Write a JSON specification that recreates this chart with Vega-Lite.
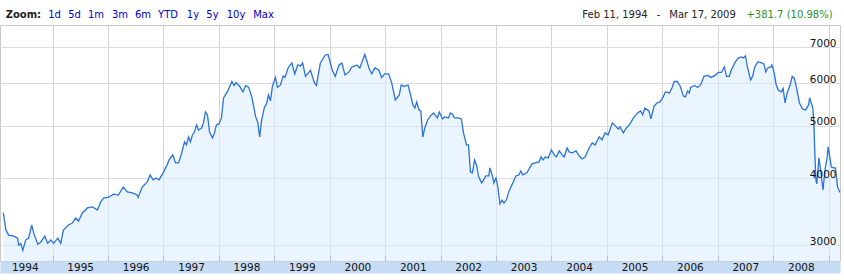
{
"$schema": "https://vega.github.io/schema/vega-lite/v6.json",
"width": 840, "height": 236,
"autosize": {"type": "none"},
"padding": {"left": 0, "top": 25, "right": 4, "bottom": 19},
"background": "white",
"config": {"view": {"stroke": "#c9c9c9"}, "axis": {"labelFont": "DejaVu Sans"}},
"data": {"values": [
{"d":"1994-02-11","v":3450},{"d":"1994-02-28","v":3202},{"d":"1994-03-18","v":3134},{"d":"1994-04-20","v":3120},{"d":"1994-05-16","v":3093},{"d":"1994-05-23","v":3000},{"d":"1994-06-06","v":3025},{"d":"1994-06-19","v":2935},{"d":"1994-07-08","v":3068},{"d":"1994-07-28","v":3093},{"d":"1994-08-17","v":3272},{"d":"1994-08-30","v":3160},{"d":"1994-09-26","v":3013},{"d":"1994-10-15","v":3040},{"d":"1994-11-11","v":3120},{"d":"1994-11-30","v":3025},{"d":"1994-12-20","v":3068},
{"d":"1995-01-09","v":3025},{"d":"1995-02-05","v":3093},{"d":"1995-02-24","v":3025},{"d":"1995-03-14","v":3202},{"d":"1995-04-16","v":3272},{"d":"1995-05-12","v":3300},{"d":"1995-06-02","v":3370},{"d":"1995-06-21","v":3328},{"d":"1995-07-17","v":3445},{"d":"1995-08-19","v":3520},{"d":"1995-09-22","v":3535},{"d":"1995-10-24","v":3489},{"d":"1995-11-14","v":3610},{"d":"1995-12-03","v":3670},
{"d":"1996-01-05","v":3685},{"d":"1996-02-07","v":3735},{"d":"1996-03-10","v":3720},{"d":"1996-04-11","v":3850},{"d":"1996-05-08","v":3770},{"d":"1996-06-10","v":3755},{"d":"1996-07-12","v":3720},{"d":"1996-07-18","v":3685},{"d":"1996-08-14","v":3850},{"d":"1996-09-16","v":3935},{"d":"1996-10-05","v":4054},{"d":"1996-10-25","v":3968},{"d":"1996-11-14","v":4000},{"d":"1996-12-03","v":3968},{"d":"1996-12-30","v":4090},
{"d":"1997-01-25","v":4231},{"d":"1997-02-07","v":4323},{"d":"1997-03-03","v":4416},{"d":"1997-03-22","v":4268},{"d":"1997-04-11","v":4268},{"d":"1997-05-01","v":4450},{"d":"1997-05-20","v":4670},{"d":"1997-06-02","v":4609},{"d":"1997-06-15","v":4770},{"d":"1997-06-28","v":4670},{"d":"1997-07-11","v":4811},{"d":"1997-07-24","v":4870},{"d":"1997-08-07","v":5021},{"d":"1997-08-20","v":4914},{"d":"1997-09-09","v":4955},{"d":"1997-09-22","v":5065},{"d":"1997-10-05","v":5308},{"d":"1997-10-18","v":5241},{"d":"1997-11-01","v":4870},{"d":"1997-11-20","v":4750},{"d":"1997-12-03","v":4852},{"d":"1997-12-16","v":5021},
{"d":"1998-01-02","v":5043},{"d":"1998-01-18","v":5174},{"d":"1998-02-01","v":5635},{"d":"1998-02-26","v":5783},{"d":"1998-03-28","v":6046},{"d":"1998-04-11","v":5945},{"d":"1998-04-24","v":6020},{"d":"1998-05-19","v":5920},{"d":"1998-06-09","v":5783},{"d":"1998-06-27","v":5945},{"d":"1998-07-17","v":5895},{"d":"1998-08-06","v":5660},{"d":"1998-09-01","v":5196},{"d":"1998-09-14","v":5086},{"d":"1998-09-27","v":4770},{"d":"1998-10-10","v":5129},{"d":"1998-10-29","v":5423},{"d":"1998-11-11","v":5492},{"d":"1998-11-24","v":5708},{"d":"1998-12-07","v":5566},{"d":"1998-12-20","v":5920},
{"d":"1999-01-09","v":6153},{"d":"1999-01-22","v":5895},{"d":"1999-02-11","v":5957},{"d":"1999-03-01","v":6193},{"d":"1999-03-13","v":6153},{"d":"1999-04-02","v":6407},{"d":"1999-04-27","v":6546},{"d":"1999-05-16","v":6246},{"d":"1999-06-05","v":6490},{"d":"1999-06-24","v":6462},{"d":"1999-07-07","v":6546},{"d":"1999-07-26","v":6180},{"d":"1999-08-28","v":6340},{"d":"1999-09-23","v":6010},{"d":"1999-10-06","v":5945},{"d":"1999-11-01","v":6546},{"d":"1999-12-03","v":6773},{"d":"1999-12-22","v":6790},
{"d":"2000-01-18","v":6353},{"d":"2000-02-07","v":6180},{"d":"2000-03-03","v":6490},{"d":"2000-03-22","v":6546},{"d":"2000-04-11","v":6219},{"d":"2000-05-07","v":6300},{"d":"2000-05-27","v":6435},{"d":"2000-06-15","v":6462},{"d":"2000-06-28","v":6490},{"d":"2000-07-18","v":6407},{"d":"2000-08-20","v":6790},{"d":"2000-09-16","v":6407},{"d":"2000-10-05","v":6246},{"d":"2000-10-25","v":6407},{"d":"2000-11-20","v":6353},{"d":"2000-12-09","v":6153},{"d":"2000-12-29","v":6246},
{"d":"2001-01-24","v":6246},{"d":"2001-02-13","v":6010},{"d":"2001-03-09","v":5588},{"d":"2001-04-04","v":5708},{"d":"2001-04-17","v":5957},{"d":"2001-05-05","v":5920},{"d":"2001-06-01","v":5957},{"d":"2001-06-14","v":5757},{"d":"2001-07-03","v":5469},{"d":"2001-07-16","v":5397},{"d":"2001-07-28","v":5542},{"d":"2001-08-11","v":5354},{"d":"2001-08-24","v":5331},{"d":"2001-09-06","v":4770},{"d":"2001-09-19","v":4955},{"d":"2001-10-08","v":5129},{"d":"2001-10-27","v":5219},{"d":"2001-11-16","v":5285},{"d":"2001-12-11","v":5174},{"d":"2001-12-24","v":5308},
{"d":"2002-01-14","v":5152},{"d":"2002-01-27","v":5196},{"d":"2002-02-23","v":5174},{"d":"2002-03-06","v":5285},{"d":"2002-03-19","v":5263},{"d":"2002-04-02","v":5174},{"d":"2002-04-28","v":5174},{"d":"2002-05-18","v":5152},{"d":"2002-06-01","v":4852},{"d":"2002-06-21","v":4609},{"d":"2002-07-04","v":4609},{"d":"2002-07-17","v":4106},{"d":"2002-07-30","v":4090},{"d":"2002-08-13","v":4323},{"d":"2002-08-26","v":4231},{"d":"2002-09-09","v":4020},{"d":"2002-09-29","v":3918},{"d":"2002-10-12","v":3968},{"d":"2002-10-25","v":4037},{"d":"2002-11-15","v":4037},{"d":"2002-11-22","v":4177},{"d":"2002-12-11","v":4020},{"d":"2002-12-18","v":3918},
{"d":"2003-01-01","v":4000},{"d":"2003-01-14","v":3850},{"d":"2003-01-27","v":3580},{"d":"2003-02-10","v":3641},{"d":"2003-02-23","v":3595},{"d":"2003-03-13","v":3656},{"d":"2003-03-26","v":3770},{"d":"2003-04-22","v":3918},{"d":"2003-05-12","v":4037},{"d":"2003-06-01","v":4054},{"d":"2003-06-14","v":4123},{"d":"2003-06-27","v":4054},{"d":"2003-07-24","v":4090},{"d":"2003-08-07","v":4159},{"d":"2003-08-26","v":4250},{"d":"2003-09-16","v":4268},{"d":"2003-10-12","v":4286},{"d":"2003-10-25","v":4378},{"d":"2003-11-08","v":4323},{"d":"2003-11-22","v":4378},{"d":"2003-12-11","v":4360},
{"d":"2004-01-01","v":4512},{"d":"2004-01-20","v":4416},{"d":"2004-02-03","v":4378},{"d":"2004-02-22","v":4493},{"d":"2004-03-12","v":4416},{"d":"2004-03-25","v":4378},{"d":"2004-04-14","v":4550},{"d":"2004-04-27","v":4474},{"d":"2004-05-17","v":4455},{"d":"2004-06-12","v":4493},{"d":"2004-07-02","v":4400},{"d":"2004-07-21","v":4341},{"d":"2004-08-10","v":4378},{"d":"2004-09-06","v":4550},{"d":"2004-09-26","v":4650},{"d":"2004-10-15","v":4609},{"d":"2004-11-11","v":4770},{"d":"2004-11-30","v":4709},{"d":"2004-12-20","v":4852},
{"d":"2005-01-09","v":4811},{"d":"2005-02-06","v":5065},{"d":"2005-02-26","v":5000},{"d":"2005-03-16","v":4935},{"d":"2005-03-29","v":4978},{"d":"2005-04-19","v":4852},{"d":"2005-05-09","v":4957},{"d":"2005-05-29","v":5021},{"d":"2005-06-25","v":5174},{"d":"2005-07-22","v":5285},{"d":"2005-08-11","v":5331},{"d":"2005-08-25","v":5241},{"d":"2005-09-08","v":5397},{"d":"2005-10-05","v":5331},{"d":"2005-10-18","v":5152},{"d":"2005-11-08","v":5445},{"d":"2005-11-27","v":5516},{"d":"2005-12-17","v":5540},
{"d":"2006-01-07","v":5660},{"d":"2006-01-21","v":5783},{"d":"2006-02-17","v":5757},{"d":"2006-03-07","v":5895},{"d":"2006-03-20","v":6046},{"d":"2006-04-10","v":6046},{"d":"2006-04-30","v":5920},{"d":"2006-05-20","v":5684},{"d":"2006-06-03","v":5660},{"d":"2006-06-16","v":5807},{"d":"2006-06-29","v":5757},{"d":"2006-07-06","v":5895},{"d":"2006-08-02","v":5945},{"d":"2006-08-22","v":5895},{"d":"2006-09-12","v":5970},{"d":"2006-10-02","v":6180},{"d":"2006-10-29","v":6206},{"d":"2006-11-18","v":6153},{"d":"2006-12-15","v":6206},
{"d":"2007-01-05","v":6285},{"d":"2007-01-25","v":6285},{"d":"2007-02-14","v":6435},{"d":"2007-02-28","v":6180},{"d":"2007-03-18","v":6180},{"d":"2007-04-01","v":6353},{"d":"2007-04-27","v":6574},{"d":"2007-05-17","v":6685},{"d":"2007-06-07","v":6715},{"d":"2007-06-20","v":6685},{"d":"2007-07-03","v":6745},{"d":"2007-07-16","v":6435},{"d":"2007-08-06","v":6087},{"d":"2007-08-19","v":6180},{"d":"2007-09-02","v":6435},{"d":"2007-09-22","v":6574},{"d":"2007-10-18","v":6546},{"d":"2007-11-01","v":6518},{"d":"2007-11-14","v":6300},{"d":"2007-11-27","v":6407},{"d":"2007-12-17","v":6435},{"d":"2007-12-24","v":6490},
{"d":"2008-01-07","v":6300},{"d":"2008-01-21","v":5970},{"d":"2008-02-04","v":5831},{"d":"2008-02-24","v":5783},{"d":"2008-03-07","v":5870},{"d":"2008-03-20","v":5516},{"d":"2008-04-03","v":5757},{"d":"2008-04-23","v":5970},{"d":"2008-05-06","v":6180},{"d":"2008-05-20","v":6127},{"d":"2008-06-03","v":5895},{"d":"2008-06-23","v":5516},{"d":"2008-07-13","v":5376},{"d":"2008-08-02","v":5354},{"d":"2008-08-22","v":5469},{"d":"2008-08-29","v":5635},{"d":"2008-09-19","v":5397},{"d":"2008-09-26","v":5065},{"d":"2008-10-02","v":4474},{"d":"2008-10-09","v":3968},{"d":"2008-10-15","v":3900},{"d":"2008-10-29","v":4360},{"d":"2008-11-12","v":4090},{"d":"2008-11-25","v":3801},{"d":"2008-12-08","v":4141},{"d":"2008-12-22","v":4360},{"d":"2008-12-29","v":4570},
{"d":"2009-01-19","v":4195},{"d":"2009-02-02","v":4177},{"d":"2009-02-15","v":4177},{"d":"2009-03-01","v":3850},{"d":"2009-03-17","v":3760}
]},
"layer": [
{"mark": {"type": "area", "color": "#d9ecff", "opacity": 0.55},
 "encoding": {
  "x": {"field": "d", "type": "temporal",
   "scale": {"domain": [{"year": 1994, "month": 1, "date": 20}, {"year": 2009, "month": 3, "date": 17}]},
   "axis": {"orient": "bottom", "title": null, "labels": false, "domain": false, "grid": true, "gridColor": "#d4d4d4", "ticks": true, "tickColor": "#8c8c8c", "tickSize": -6,
    "values": [{"year":1995,"month":1,"date":1},{"year":1996,"month":1,"date":1},{"year":1997,"month":1,"date":1},{"year":1998,"month":1,"date":1},{"year":1999,"month":1,"date":1},{"year":2000,"month":1,"date":1},{"year":2001,"month":1,"date":1},{"year":2002,"month":1,"date":1},{"year":2003,"month":1,"date":1},{"year":2004,"month":1,"date":1},{"year":2005,"month":1,"date":1},{"year":2006,"month":1,"date":1},{"year":2007,"month":1,"date":1},{"year":2008,"month":1,"date":1},{"year":2009,"month":1,"date":1}]}},
  "y": {"field": "v", "type": "quantitative", "stack": null,
   "scale": {"type": "log", "domain": [2805, 7700], "nice": false},
   "axis": {"orient": "right", "title": null, "values": [3000, 4000, 5000, 6000, 7000], "grid": true, "gridColor": "#dbdaec", "domain": false, "ticks": false, "labels": false}},
  "y2": {"datum": 2805}
 }},
{"mark": {"type": "line", "color": "#2a73d9", "strokeWidth": 1.3},
 "encoding": {
  "x": {"field": "d", "type": "temporal",
   "axis": {"orient": "bottom", "title": null, "labels": false, "grid": false, "ticks": false, "domain": true, "domainColor": "#c6dcf4", "domainWidth": 12, "offset": 6, "zindex": 1}},
  "y": {"field": "v", "type": "quantitative",
   "axis": {"orient": "right", "title": null, "values": [3000, 4000, 5000, 6000, 7000], "format": "d", "grid": false, "domain": false, "ticks": false, "zindex": 1,
    "labelAlign": "right", "labelPadding": -4, "labelBaseline": "bottom", "labelOffset": 1, "labelFontSize": 10.5, "labelColor": "#111111"}}
 }},
{"mark": {"type": "line", "strokeOpacity": 0},
 "encoding": {
  "x": {"field": "d", "type": "temporal",
   "axis": {"orient": "bottom", "title": null, "format": "%Y", "grid": false, "ticks": false, "tickSize": 0, "domain": false, "offset": 6, "zindex": 2,
    "labelBaseline": "middle", "labelPadding": 0, "labelFontSize": 10.5, "labelColor": "#111111", "labelOverlap": false,
    "values": [{"year":1994,"month":7,"date":2},{"year":1995,"month":7,"date":2},{"year":1996,"month":7,"date":2},{"year":1997,"month":7,"date":2},{"year":1998,"month":7,"date":2},{"year":1999,"month":7,"date":2},{"year":2000,"month":7,"date":2},{"year":2001,"month":7,"date":2},{"year":2002,"month":7,"date":2},{"year":2003,"month":7,"date":2},{"year":2004,"month":7,"date":2},{"year":2005,"month":7,"date":2},{"year":2006,"month":7,"date":2},{"year":2007,"month":7,"date":2},{"year":2008,"month":7,"date":2}]}},
  "y": {"field": "v", "type": "quantitative", "axis": null}
 }},
{"mark": {"type": "line", "strokeOpacity": 0},
 "encoding": {
  "x": {"field": "d", "type": "temporal",
   "axis": {"orient": "top", "title": null, "grid": false, "ticks": false, "domain": false, "labelPadding": 6, "labelFontSize": 10, "labelOverlap": false, "labelBound": false, "labelFlush": false,
    "labelColor": {"condition": [{"test": "year(datum.value) == 2008", "value": "#2f8f2f"}, {"test": "year(datum.value) < 1995 || year(datum.value) > 2004", "value": "#222222"}], "value": "#0000cc"},
    "labelFontWeight": {"condition": {"test": "year(datum.value) == 1994", "value": "bold"}, "value": "normal"},
    "labelExpr": "['Zoom:','1d','5d','1m','3m','6m','YTD','1y','5y','10y','Max','Feb 11, 1994','-','Mar 17, 2009','+381.7 (10.98%)'][indexof(['1994-06-20','1995-01-11','1995-05-23','1995-10-11','1996-03-17','1996-08-16','1997-01-28','1997-07-11','1997-11-17','1998-04-21','1998-10-19','2005-02-20','2005-12-04','2006-09-20','2008-04-15'], timeFormat(datum.value, '%Y-%m-%d'))]",
    "values": [{"year":1994,"month":6,"date":20},{"year":1995,"month":1,"date":11},{"year":1995,"month":5,"date":23},{"year":1995,"month":10,"date":11},{"year":1996,"month":3,"date":17},{"year":1996,"month":8,"date":16},{"year":1997,"month":1,"date":28},{"year":1997,"month":7,"date":11},{"year":1997,"month":11,"date":17},{"year":1998,"month":4,"date":21},{"year":1998,"month":10,"date":19},{"year":2005,"month":2,"date":20},{"year":2005,"month":12,"date":4},{"year":2006,"month":9,"date":20},{"year":2008,"month":4,"date":15}]}},
  "y": {"field": "v", "type": "quantitative", "axis": null}
 }}
],
"resolve": {"axis": {"x": "independent", "y": "independent"}}
}
